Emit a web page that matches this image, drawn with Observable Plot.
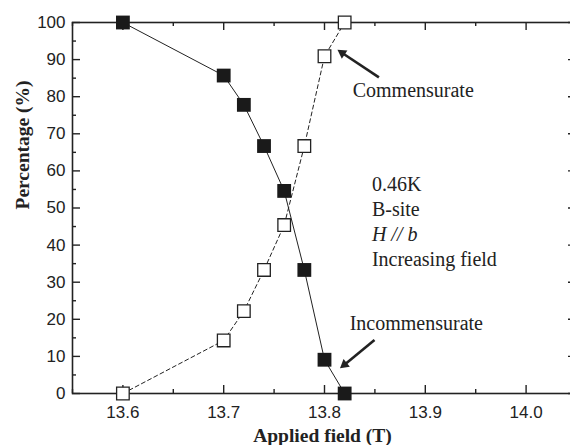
<!DOCTYPE html>
<html><head><meta charset="utf-8">
<script src="https://cdn.jsdelivr.net/npm/d3@7"></script>
<script src="https://cdn.jsdelivr.net/npm/@observablehq/plot@0.6"></script>
<style>body{margin:0;background:#fff} svg{display:block}</style>
</head><body><div id="chart"></div>
<script>
// Data
const field = [13.60, 13.70, 13.72, 13.74, 13.76, 13.78, 13.80, 13.82];
const incommensurate = [100, 85.7, 77.8, 66.7, 54.6, 33.3, 9.1, 0];
const commensurate = [0, 14.3, 22.2, 33.3, 45.4, 66.7, 90.9, 100];
const xTicks = [13.6, 13.7, 13.8, 13.9, 14.0];
const xMinor = [13.55, 13.65, 13.75, 13.85, 13.95, 14.05];
const yTicks = [0, 10, 20, 30, 40, 50, 60, 70, 80, 90, 100];
const yMinor = [5, 15, 25, 35, 45, 55, 65, 75, 85, 95];
const xLabel = "Applied field (T)";
const yLabel = "Percentage (%)";
const infoLines = ["0.46K", "B-site", "H // b", "Increasing field"];

const serif = "'Liberation Serif', 'Times New Roman', serif";
const sans = "'Liberation Sans', Arial, sans-serif";
const ink = "#222";

const inc = field.map((x, i) => ({x, y: incommensurate[i]}));
const com = field.map((x, i) => ({x, y: commensurate[i]}));

// annotation placement (data coordinates): shaft tail -> head base, triangle head
const arrows = [
  {x1: 13.854, y1: 85.2, x2: 13.8176, y2: 91.77, rot: -56},
  {x1: 13.8496, y1: 14.4, x2: 13.8198, y2: 7.76, rot: -129.2}
];
const labels = [
  {x: 13.828, y: 80.0, t: "Commensurate"},
  {x: 13.825, y: 17.1, t: "Incommensurate"}
];
const info = infoLines.map((t, i) => ({x: 13.847, y: [54.5, 47.9, 41.1, 34.4][i], t, italic: i === 2}));

const W = 570, H = 445, mL = 72, mR = -6, mT = 22, mB = 52;
const fw = W - mL - mR, fh = H - mT - mB;

const chart = Plot.plot({
  width: W, height: H,
  marginLeft: mL, marginRight: mR, marginTop: mT, marginBottom: mB,
  x: {domain: [13.55, 14.05]},
  y: {domain: [0, 100]},
  style: {fontFamily: sans, background: "white"},
  marks: [
    Plot.frame({stroke: ink, strokeWidth: 1.6}),
    // inward ticks
    Plot.tickX(xTicks, {x: d => d, insetTop: fh - 8, stroke: ink, strokeWidth: 1.4}),
    Plot.tickX(xTicks, {x: d => d, insetBottom: fh - 8, stroke: ink, strokeWidth: 1.4}),
    Plot.tickX(xMinor, {x: d => d, insetTop: fh - 4, stroke: ink, strokeWidth: 1.4}),
    Plot.tickX(xMinor, {x: d => d, insetBottom: fh - 4, stroke: ink, strokeWidth: 1.4}),
    Plot.tickY(yTicks, {y: d => d, insetRight: fw - 8, stroke: ink, strokeWidth: 1.4}),
    Plot.tickY(yTicks, {y: d => d, insetLeft: fw - 8, stroke: ink, strokeWidth: 1.4}),
    Plot.tickY(yMinor, {y: d => d, insetRight: fw - 4, stroke: ink, strokeWidth: 1.4}),
    Plot.tickY(yMinor, {y: d => d, insetLeft: fw - 4, stroke: ink, strokeWidth: 1.4}),
    Plot.axisX(xTicks, {tickSize: 0, tickPadding: 12, tickFormat: d3.format(".1f"), fontSize: 17, fill: ink, label: null}),
    Plot.axisY(yTicks, {tickSize: 0, tickPadding: 7, fontSize: 17, fill: ink, label: null}),
    Plot.text([xLabel], {text: d => d, frameAnchor: "bottom", dy: 48.5, dx: -2, lineAnchor: "bottom", fontFamily: serif, fontWeight: "bold", fontSize: 19.5, fill: ink}),
    Plot.text([yLabel], {text: d => d, frameAnchor: "left", dx: -44, dy: 1.5, rotate: -90, lineAnchor: "bottom", fontFamily: serif, fontWeight: "bold", fontSize: 19.5, fill: ink}),
    // series lines
    Plot.line(inc, {x: "x", y: "y", stroke: ink, strokeWidth: 1}),
    Plot.line(com, {x: "x", y: "y", stroke: ink, strokeWidth: 1, strokeDasharray: "4,3"}),
    // markers
    Plot.dot(inc, {x: "x", y: "y", symbol: "square", r: 7.8, fill: "#1a1a1a", stroke: "none"}),
    Plot.dot(com, {x: "x", y: "y", symbol: "square", r: 7.1, fill: "white", stroke: ink, strokeWidth: 1.3}),
    // annotations
    Plot.link(arrows, {x1: "x1", y1: "y1", x2: "x2", y2: "y2", stroke: ink, strokeWidth: 2.6}),
    Plot.dot(arrows, {x: "x2", y: "y2", symbol: "triangle", r: 3.7, rotate: "rot", fill: ink, stroke: "none"}),
    Plot.text(labels, {x: "x", y: "y", text: "t", textAnchor: "start", lineAnchor: "bottom", fontFamily: serif, fontSize: 20, fill: ink}),
    Plot.text(info.filter(d => !d.italic), {x: "x", y: "y", text: "t", textAnchor: "start", lineAnchor: "bottom", fontFamily: serif, fontSize: 20, fill: ink}),
    Plot.text(info.filter(d => d.italic), {x: "x", y: "y", text: "t", textAnchor: "start", lineAnchor: "bottom", fontFamily: serif, fontStyle: "italic", fontSize: 20, fill: ink})
  ]
});
document.getElementById("chart").append(chart);
</script>
</body></html>
